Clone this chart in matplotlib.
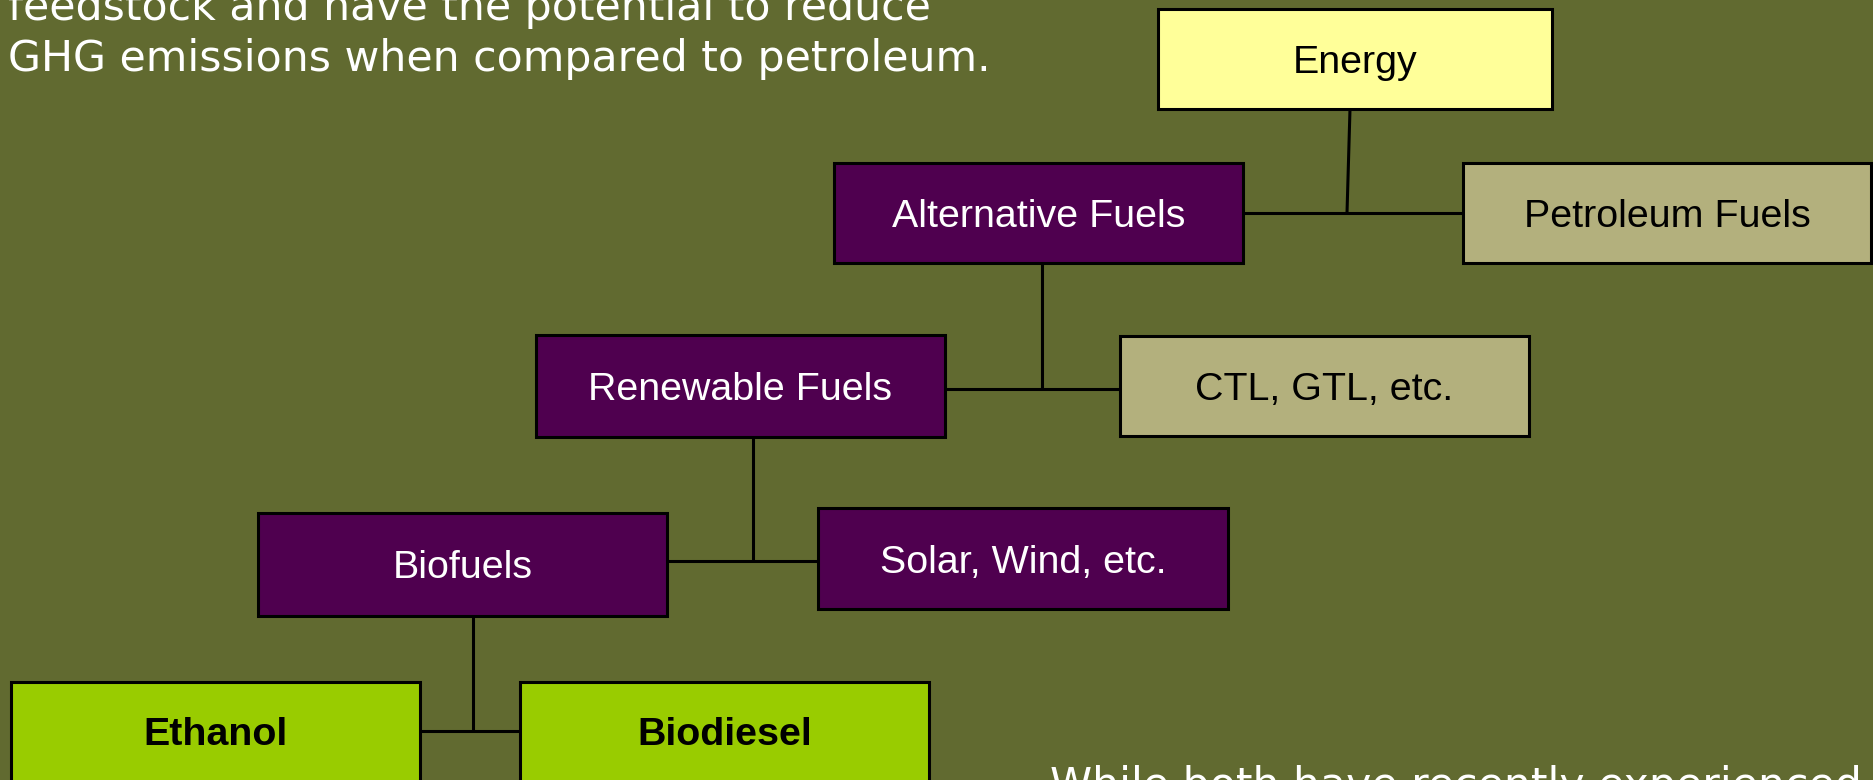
import matplotlib
matplotlib.use("Agg")
import matplotlib.pyplot as plt
from matplotlib.patches import Rectangle

# ---- data ----
node_labels = ["Energy", "Alternative Fuels", "Petroleum Fuels", "Renewable Fuels",
               "CTL, GTL, etc.", "Biofuels", "Solar, Wind, etc.", "Ethanol", "Biodiesel"]
node_kind = ["root", "alt", "other", "alt", "other", "alt", "alt", "leaf", "leaf"]
edges = [(0, 1, 2), (1, 3, 4), (3, 5, 6), (5, 7, 8)]  # parent, left child, right child
top_text = ["feedstock and have the potential to reduce",
            "GHG emissions when compared to petroleum."]
bottom_text = "While both have recently experienced"

# ---- layout (pixel coordinates: x0, y0, x1, y1) ----
boxes = [(1158, 9, 1552, 109), (834, 163, 1243, 263), (1463, 163, 1871, 263),
         (536, 335, 945, 437), (1120, 336, 1529, 436), (258, 513, 667, 616),
         (818, 508, 1228, 609), (11, 682, 420, 782), (520, 682, 929, 782)]
# connector: (stem x top, stem x bottom, junction y)
stems = [(1350, 1347, 213), (1042, 1042, 389), (753, 753, 561), (473, 473, 731)]

styles = {
    "root": dict(fc="#FFFF99", tc="black", weight="normal"),
    "alt": dict(fc="#4F004F", tc="white", weight="normal"),
    "other": dict(fc="#B3B07D", tc="black", weight="normal"),
    "leaf": dict(fc="#99CC00", tc="black", weight="bold"),
}
BG = "#616A30"
W, H = 1874, 780

fig = plt.figure(figsize=(W / 100, H / 100), dpi=100)
fig.patch.set_facecolor(BG)
ax = fig.add_axes([0, 0, 1, 1])
ax.set_facecolor(BG)
ax.set_xlim(0, W)
ax.set_ylim(H, 0)
ax.axis("off")

lw = 2.2
# connectors
for (p, l, r), (sx0, sx1, jy) in zip(edges, stems):
    px0, py0, px1, py1 = boxes[p]
    ax.plot([sx0, sx1], [py1, jy], color="black", lw=lw, solid_capstyle="butt", zorder=1)
    lx1 = boxes[l][2]
    rx0 = boxes[r][0]
    ax.plot([lx1, rx0], [jy, jy], color="black", lw=lw, solid_capstyle="butt", zorder=1)

# boxes
for label, kind, (x0, y0, x1, y1) in zip(node_labels, node_kind, boxes):
    st = styles[kind]
    ax.add_patch(Rectangle((x0, y0), x1 - x0, y1 - y0, facecolor=st["fc"],
                           edgecolor="black", lw=lw, zorder=2))
    cy = (y0 + y1) / 2 if kind != "leaf" else 731
    ax.text((x0 + x1) / 2, cy + 14, label, ha="center", va="baseline",
            fontsize=28.4, color=st["tc"], fontweight=st["weight"],
            family="Liberation Sans", zorder=3)

# body text
ax.text(8, 20, top_text[0], ha="left", va="baseline", fontsize=30.7, color="white",
        family="DejaVu Sans")
ax.text(8, 71, top_text[1], ha="left", va="baseline", fontsize=30.7, color="white",
        family="DejaVu Sans")
ax.text(1050, 798, bottom_text, ha="left", va="baseline", fontsize=30.7, color="white",
        family="DejaVu Sans", clip_on=False)

fig.savefig("out.png", dpi=100, facecolor=BG)
